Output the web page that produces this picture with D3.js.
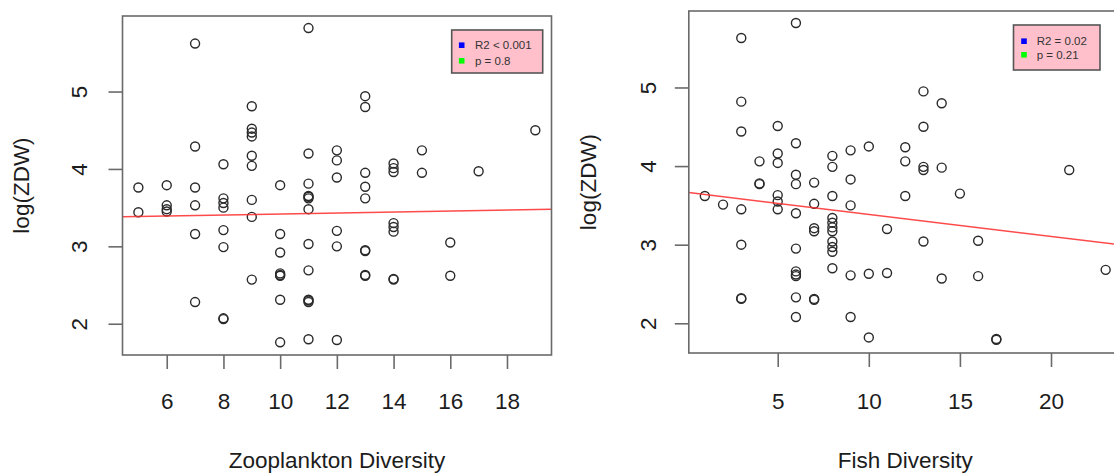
<!DOCTYPE html>
<html>
<head>
<meta charset="utf-8">
<script src="https://cdn.jsdelivr.net/npm/d3@7"></script>
<style>
  html, body { margin: 0; padding: 0; background: #fff; }
  svg { display: block; font-family: "Liberation Sans", Arial, sans-serif; }
</style>
</head>
<body>
<svg id="chart" width="1114" height="475"></svg>
<script>
// Zooplankton diversity vs log(ZDW)
const zooDiversity = [
  5, 5,
  6, 6, 6, 6,
  7, 7, 7, 7, 7, 7,
  8, 8, 8, 8, 8, 8, 8, 8,
  9, 9, 9, 9, 9, 9, 9, 9, 9,
  10, 10, 10, 10, 10, 10, 10, 10,
  11, 11, 11, 11, 11, 11, 11, 11, 11, 11, 11, 11, 11,
  12, 12, 12, 12, 12, 12,
  13, 13, 13, 13, 13, 13, 13, 13, 13,
  14, 14, 14, 14, 14, 14, 14, 14,
  15, 15, 16, 16, 17, 19
];
const zooLogZDW = [
  3.76, 3.44,
  3.79, 3.53, 3.48, 3.45,
  5.62, 4.29, 3.76, 3.53, 3.16, 2.28,
  4.06, 3.62, 3.56, 3.50, 3.21, 2.99, 2.06, 2.07,
  4.81, 4.52, 4.47, 4.42, 4.17, 4.04, 3.60, 3.38, 2.57,
  3.79, 3.16, 2.92, 2.65, 2.62, 2.63, 2.31, 1.76,
  5.82, 4.20, 3.81, 3.65, 3.62, 3.64, 3.48, 3.03, 2.69, 2.31, 2.28, 2.30, 1.80,
  4.24, 4.11, 3.89, 3.20, 3.00, 1.79,
  4.94, 4.80, 3.95, 3.77, 3.62, 2.95, 2.94, 2.62, 2.63,
  4.07, 4.01, 3.96, 3.30, 3.25, 3.19, 2.57, 2.58,
  4.24, 3.95, 3.05, 2.62, 3.97, 4.50
];

// Fish diversity vs log(ZDW)
const fishDiversity = [
  1, 2,
  3, 3, 3, 3, 3, 3, 3,
  4, 4, 4,
  5, 5, 5, 5, 5, 5,
  6, 6, 6, 6, 6, 6, 6, 6, 6, 6, 6,
  7, 7, 7, 7, 7, 7,
  8, 8, 8, 8, 8, 8, 8, 8, 8, 8, 8,
  9, 9, 9, 9, 9,
  10, 10, 10,
  11, 11,
  12, 12, 12,
  13, 13, 13, 13, 13,
  14, 14, 14,
  15, 16, 16, 17, 17, 21, 23
];
const fishLogZDW = [
  3.62, 3.51,
  5.63, 4.82, 4.44, 3.45, 3.00, 2.32, 2.31,
  4.06, 3.78, 3.77,
  4.51, 4.16, 4.04, 3.63, 3.55, 3.45,
  5.82, 4.29, 3.89, 3.77, 3.40, 2.95, 2.66, 2.62, 2.60, 2.33, 2.08,
  3.79, 3.52, 3.21, 3.17, 2.31, 2.30,
  4.13, 3.99, 3.62, 3.34, 3.28, 3.22, 3.17, 3.04, 2.97, 2.91, 2.70,
  4.20, 3.83, 3.50, 2.61, 2.08,
  4.25, 2.63, 1.82,
  3.20, 2.64,
  4.24, 4.06, 3.62,
  4.95, 4.50, 3.99, 3.95, 3.04,
  4.80, 3.98, 2.57,
  3.65, 3.05, 2.60, 1.80, 1.79, 3.95, 2.68
];

// Tick values
const zooTicks = [6, 8, 10, 12, 14, 16, 18];
const fishTicks = [5, 10, 15, 20];
const logTicks = [2, 3, 4, 5];

// Fitted lines: [intercept, slope]
const zooFit = [3.354, 0.00635];
const fishFit = [3.667, -0.0281];

// Legend entries
const zooLegend = ["R2 < 0.001", "p = 0.8"];
const fishLegend = ["R2 = 0.02", "p = 0.21"];
const legendColors = ["#0000ff", "#00ff00"];

const svg = d3.select("#chart");
const FONT = 22.5;
const INK = "#1c1c1c";
const FRAME = "#6a6a6a";

function panel(cfg) {
  const x = d3.scaleLinear().domain(cfg.xDomain).range([cfg.left, cfg.right]);
  const y = d3.scaleLinear().domain(cfg.yDomain).range([cfg.bottom, cfg.top]);
  const g = svg.append("g");

  const clipId = "clip-" + cfg.id;
  svg.append("clipPath").attr("id", clipId)
    .append("rect")
    .attr("x", cfg.left).attr("y", cfg.top)
    .attr("width", cfg.right - cfg.left).attr("height", cfg.bottom - cfg.top);

  // points
  const pts = d3.zip(cfg.xs, cfg.ys);
  g.append("g")
    .selectAll("circle")
    .data(pts)
    .join("circle")
    .attr("cx", d => x(d[0]))
    .attr("cy", d => y(d[1]))
    .attr("r", 4.5)
    .attr("fill", "none")
    .attr("stroke", "#2a2a2a")
    .attr("stroke-width", 1.4);

  // regression line across the plot region
  const [x0, x1] = x.domain();
  g.append("line")
    .attr("clip-path", `url(#${clipId})`)
    .attr("x1", x(x0)).attr("y1", y(cfg.fit[0] + cfg.fit[1] * x0))
    .attr("x2", x(x1)).attr("y2", y(cfg.fit[0] + cfg.fit[1] * x1))
    .attr("stroke", "#ff2a2a")
    .attr("stroke-opacity", 0.85)
    .attr("stroke-width", 1.5);

  // frame
  g.append("rect")
    .attr("x", cfg.left).attr("y", cfg.top)
    .attr("width", cfg.right - cfg.left).attr("height", cfg.bottom - cfg.top)
    .attr("fill", "none")
    .attr("stroke", FRAME)
    .attr("stroke-width", 1.6);

  // x axis
  const xAxis = d3.axisBottom(x).tickValues(cfg.xTicks).tickSize(14).tickSizeOuter(0).tickFormat(d3.format("d"));
  const xg = g.append("g").attr("transform", `translate(0,${cfg.bottom})`).call(xAxis);
  xg.select(".domain").remove();
  xg.selectAll(".tick line").attr("stroke", FRAME).attr("stroke-width", 1.6);
  xg.selectAll(".tick text")
    .attr("y", 0).attr("dy", null)
    .attr("transform", `translate(0,${cfg.xLabelBase - cfg.bottom})`)
    .attr("font-size", FONT).attr("fill", INK)
    .attr("font-family", "Liberation Sans, Arial, sans-serif");

  // y axis
  const yAxis = d3.axisLeft(y).tickValues(logTicks).tickSize(14).tickSizeOuter(0).tickFormat(d3.format("d"));
  const yg = g.append("g").attr("transform", `translate(${cfg.left},0)`).call(yAxis);
  yg.select(".domain").remove();
  yg.selectAll(".tick line").attr("stroke", FRAME).attr("stroke-width", 1.6);
  yg.selectAll(".tick text")
    .attr("x", 0).attr("dy", null)
    .attr("text-anchor", "middle")
    .attr("transform", `translate(${cfg.yLabelBase - cfg.left},0) rotate(-90)`)
    .attr("font-size", FONT).attr("fill", INK)
    .attr("font-family", "Liberation Sans, Arial, sans-serif");

  // axis titles
  g.append("text")
    .attr("x", (cfg.left + cfg.right) / 2).attr("y", cfg.xTitleBase)
    .attr("text-anchor", "middle")
    .attr("font-size", FONT).attr("fill", INK)
    .text(cfg.xTitle);
  g.append("text")
    .attr("transform", `translate(${cfg.yTitleBase},${(cfg.top + cfg.bottom) / 2}) rotate(-90)`)
    .attr("text-anchor", "middle")
    .attr("font-size", FONT).attr("fill", INK)
    .text("log(ZDW)");

  // legend
  const L = cfg.legend;
  const lg = g.append("g");
  lg.append("rect")
    .attr("x", L.x).attr("y", L.y).attr("width", L.w).attr("height", L.h)
    .attr("fill", "#ffc0cb")
    .attr("stroke", "#555").attr("stroke-width", 1.6);
  cfg.legendText.forEach((t, i) => {
    const cy = L.row0 + i * L.step;
    lg.append("rect")
      .attr("x", L.mark - 2.8).attr("y", cy - 2.8)
      .attr("width", 5.6).attr("height", 5.6)
      .attr("fill", legendColors[i]);
    lg.append("text")
      .attr("x", L.text).attr("y", cy + 4.1)
      .attr("font-size", 11.5).attr("fill", "#333")
      .text(t);
  });
}

panel({
  id: "zoo",
  xs: zooDiversity, ys: zooLogZDW,
  xDomain: [4.44, 19.57], yDomain: [1.596, 5.976],
  left: 122.5, right: 551.5, top: 16, bottom: 355,
  xTicks: zooTicks, fit: zooFit,
  xLabelBase: 409, xTitleBase: 468, yLabelBase: 87, yTitleBase: 29,
  xTitle: "Zooplankton Diversity",
  legendText: zooLegend,
  legend: { x: 451.7, y: 30, w: 91, h: 43, mark: 461.7, text: 475, row0: 45.2, step: 15.6 }
});

panel({
  id: "fish",
  xs: fishDiversity, ys: fishLogZDW,
  xDomain: [0.12, 23.88], yDomain: [1.622, 5.973],
  left: 688.8, right: 1121.7, top: 11, bottom: 353,
  xTicks: fishTicks, fit: fishFit,
  xLabelBase: 409, xTitleBase: 468, yLabelBase: 656, yTitleBase: 596,
  xTitle: "Fish Diversity",
  legendText: fishLegend,
  legend: { x: 1013.5, y: 25, w: 86.5, h: 45, mark: 1024, text: 1036.7, row0: 41.2, step: 13.6 }
});
</script>
</body>
</html>
